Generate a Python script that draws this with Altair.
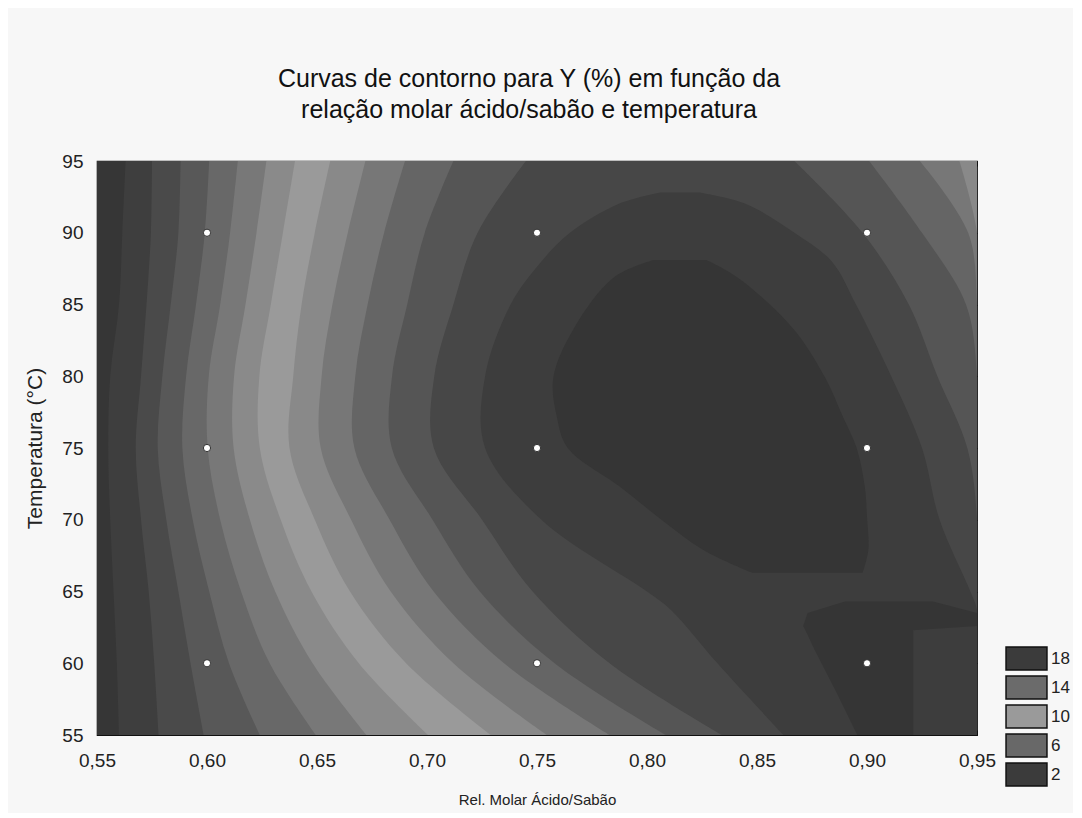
import altair as alt
import pandas as pd

TITLE_LINES = ["Curvas de contorno para Y (%) em função da",
               "relação molar ácido/sabão e temperatura"]
X_TITLE = "Rel. Molar Ácido/Sabão"
Y_TITLE = "Temperatura (°C)"

X_MIN, X_MAX = 0.55, 0.95
T_MIN, T_MAX = 55, 95
X_TICKS = [0.55, 0.60, 0.65, 0.70, 0.75, 0.80, 0.85, 0.90, 0.95]
T_TICKS = [55, 60, 65, 70, 75, 80, 85, 90, 95]

# experimental design points
POINT_X = [0.60, 0.60, 0.60, 0.75, 0.75, 0.75, 0.90, 0.90, 0.90]
POINT_T = [60, 75, 90, 60, 75, 90, 60, 75, 90]

# contour lines: left / right edge of each level region
T_ROWS = [55, 60, 65, 70, 75, 80, 85, 90, 95]
LEFT_EDGE = [0.55, 0.55, 0.55, 0.55, 0.55, 0.55, 0.55, 0.55, 0.55]
LEFT_K1 = [0.5600, 0.5590, 0.5575, 0.5560, 0.5551, 0.5560, 0.5600, 0.5615, 0.5630]
LEFT_K2 = [0.5780, 0.5760, 0.5735, 0.5700, 0.5676, 0.5700, 0.5725, 0.5745, 0.5750]
LEFT_K3 = [0.5985, 0.5925, 0.5870, 0.5815, 0.5776, 0.5797, 0.5835, 0.5870, 0.5880]
LEFT_K4 = [0.6240, 0.6100, 0.6010, 0.5935, 0.5888, 0.5905, 0.5950, 0.5990, 0.6010]
LEFT_K5 = [0.6495, 0.6285, 0.6155, 0.6060, 0.6003, 0.6008, 0.6060, 0.6105, 0.6140]
LEFT_K6 = [0.6725, 0.6480, 0.6310, 0.6195, 0.6121, 0.6123, 0.6175, 0.6225, 0.6270]
LEFT_K7 = [0.7005, 0.6690, 0.6475, 0.6335, 0.6240, 0.6238, 0.6290, 0.6345, 0.6400]
LEFT_K8 = [0.7290, 0.6905, 0.6650, 0.6490, 0.6375, 0.6392, 0.6430, 0.6490, 0.6560]
LEFT_K9 = [0.7545, 0.7120, 0.6835, 0.6655, 0.6517, 0.6521, 0.6570, 0.6640, 0.6720]
LEFT_K10 = [0.7830, 0.7350, 0.7030, 0.6830, 0.6670, 0.6674, 0.6730, 0.6805, 0.6900]
LEFT_K11 = [0.8085, 0.7580, 0.7240, 0.7025, 0.6840, 0.6841, 0.6910, 0.6990, 0.7120]
LEFT_K12 = [0.8340, 0.7830, 0.7480, 0.7250, 0.7031, 0.7033, 0.7120, 0.7230, 0.7450]
RIGHT_EDGE = [0.95, 0.95, 0.95, 0.95, 0.95, 0.95, 0.95, 0.95, 0.95]
RIGHT_K9 = [0.95, 0.95, 0.95, 0.95, 0.95, 0.95, 0.95, 0.95, 0.942]
RIGHT_K10 = [0.95, 0.95, 0.95, 0.95, 0.95, 0.95, 0.95, 0.946, 0.924]
RIGHT_K11 = [0.95, 0.95, 0.95, 0.95, 0.95, 0.95, 0.945, 0.925, 0.901]
RIGHT_K12 = [0.95, 0.95, 0.95, 0.95, 0.9456, 0.932, 0.919, 0.898, 0.867]

T_K13 = [55, 60, 63.7, 65, 70, 75, 80, 85, 88, 90, 92, 92.8]
LEFT_K13 = [0.862, 0.832, 0.811, 0.800, 0.752, 0.7264, 0.7264, 0.738, 0.752, 0.765, 0.787, 0.806]
RIGHT_K13 = [0.95, 0.95, 0.95, 0.947, 0.933, 0.925, 0.911, 0.895, 0.884, 0.867, 0.845, 0.824]

T_K14 = [66.3, 67.9, 70.2, 72.3, 75, 77.2, 79.9, 83.4, 86.9, 88.1]
LEFT_K14 = [0.848, 0.8256, 0.805, 0.7877, 0.764, 0.759, 0.7574, 0.767, 0.785, 0.803]
RIGHT_K14 = [0.898, 0.9006, 0.900, 0.899, 0.8953, 0.889, 0.881, 0.866, 0.841, 0.827]

T_K14B = [55, 58, 61, 62.3, 62.6, 63.5, 64.3]
LEFT_K14B = [0.8956, 0.886, 0.876, 0.872, 0.871, 0.873, 0.890]
RIGHT_K14B = [0.921, 0.921, 0.921, 0.921, 0.95, 0.95, 0.930]

# gray of each band (index 0 = outside every level)
BAND_GRAY = [54, 62, 74, 88, 104, 120, 138, 154, 137, 119, 101, 85, 71, 61, 53]

LEGEND_LABELS = ["18", "14", "10", "6", "2"]
LEGEND_COLORS = ["#3b3b3b", "#6b6b6b", "#9a9a9a", "#686868", "#3b3b3b"]

FONT = "Liberation Sans"
TXT = "#222222"


def gray(v):
    return "#%02x%02x%02x" % (v, v, v)


xs = alt.Scale(domain=[X_MIN, X_MAX], nice=False, zero=False)
ys = alt.Scale(domain=[T_MIN, T_MAX], nice=False, zero=False)

label_expr = "replace(format(datum.value, '.2f'), '.', ',')"

x_axes = [
    alt.Axis(orient="bottom", values=X_TICKS, labelExpr=label_expr, ticks=False,
             domain=False, grid=False, title=X_TITLE, labelFontSize=19, labelFont=FONT,
             labelColor=TXT, labelPadding=16, labelFlush=False, labelOverlap=False,
             titleFont=FONT, titleFontSize=15, titleFontWeight="normal", titleColor=TXT,
             titlePadding=22),
    alt.Axis(orient="bottom", values=X_TICKS, labels=False, domain=False, grid=False,
             ticks=True, tickSize=5, tickColor="#111111", offset=-5, title=None),
    alt.Axis(orient="top", values=X_TICKS, labels=False, domain=False, grid=False,
             ticks=True, tickSize=5, tickColor="#111111", offset=-5, title=None),
]
y_axes = [
    alt.Axis(orient="left", values=T_TICKS, ticks=False, domain=False, grid=False,
             title=Y_TITLE, labelFontSize=19, labelFont=FONT, labelColor=TXT,
             labelPadding=14, labelFlush=False, labelOverlap=False, titleFont=FONT,
             titleFontSize=21, titleFontWeight="normal", titleColor=TXT, titlePadding=16),
    alt.Axis(orient="left", values=T_TICKS, labels=False, domain=False, grid=False,
             ticks=True, tickSize=5, tickColor="#111111", offset=-5, title=None),
    alt.Axis(orient="right", values=T_TICKS, labels=False, domain=False, grid=False,
             ticks=True, tickSize=5, tickColor="#111111", offset=-5, title=None),
]

left_lists = [LEFT_EDGE, LEFT_K1, LEFT_K2, LEFT_K3, LEFT_K4, LEFT_K5, LEFT_K6, LEFT_K7,
              LEFT_K8, LEFT_K9, LEFT_K10, LEFT_K11, LEFT_K12]
right_lists = {9: RIGHT_K9, 10: RIGHT_K10, 11: RIGHT_K11, 12: RIGHT_K12}

levels = []
for k, lst in enumerate(left_lists):
    levels.append((k, T_ROWS, lst, right_lists.get(k, RIGHT_EDGE), "catmull-rom"))
levels.append((13, T_K13, LEFT_K13, RIGHT_K13, "catmull-rom"))
levels.append((14, T_K14, LEFT_K14, RIGHT_K14, "catmull-rom"))
levels.append((14, T_K14B, LEFT_K14B, RIGHT_K14B, "linear"))

layers = []
for n, (k, tl, xl, xr, interp) in enumerate(levels):
    df = pd.DataFrame({"T": tl, "xl": xl, "xr": xr})
    if n < 3:
        xa, ya = x_axes[n], y_axes[n]
    else:
        xa, ya = None, None
    layer = alt.Chart(df).mark_area(
        orient="horizontal", interpolate=interp, color=gray(BAND_GRAY[k]),
        clip=True, strokeWidth=0
    ).encode(
        y=alt.Y("T:Q", scale=ys, axis=ya),
        x=alt.X("xl:Q", scale=xs, axis=xa),
        x2="xr:Q",
    )
    layers.append(layer)

pts = pd.DataFrame({"x": POINT_X, "T": POINT_T})
points = alt.Chart(pts).mark_point(
    filled=True, fill="white", stroke="#333333", strokeWidth=1, size=52, opacity=1
).encode(
    x=alt.X("x:Q", scale=xs, axis=None),
    y=alt.Y("T:Q", scale=ys, axis=None),
)
layers.append(points)

leg = pd.DataFrame({"lbl": LEGEND_LABELS})
legend_layer = alt.Chart(leg).mark_square(opacity=0, size=1).encode(
    color=alt.Color(
        "lbl:N",
        scale=alt.Scale(domain=LEGEND_LABELS, range=LEGEND_COLORS),
        legend=alt.Legend(
            orient="none", legendX=917, legendY=485, title=None,
            symbolType="M-1.78,-1H1.78V1H-1.78Z", symbolSize=529,
            symbolStrokeColor="#111111", symbolStrokeWidth=1.5, symbolOpacity=1,
            labelFontSize=17, labelFont=FONT, labelColor=TXT, labelOffset=12,
            rowPadding=0, padding=0,
        ),
    )
)
layers.append(legend_layer)

chart = alt.layer(*layers).resolve_axis(x="independent", y="independent").properties(
    width=880,
    height=574,
    autosize=alt.AutoSizeParams(type="none"),
    padding={"left": 89, "top": 153, "right": 96, "bottom": 78},
    background="#f7f7f7",
    title=alt.TitleParams(
        text=TITLE_LINES, font=FONT, fontSize=25, fontWeight="normal", color="#111111",
        lineHeight=31, anchor="middle", frame="group", offset=29, dx=-8,
    ),
).configure_view(stroke="#111111", strokeWidth=1.2)

chart.save("out.html", embed_options={"renderer": "svg", "actions": False})
